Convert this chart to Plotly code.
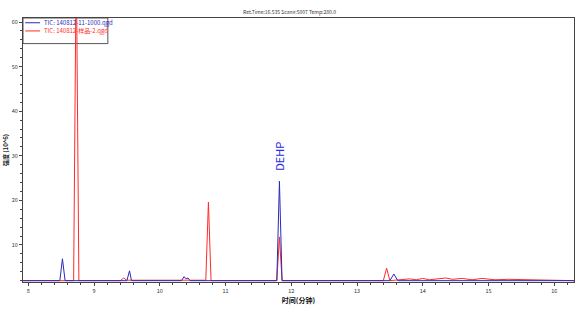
import plotly.graph_objects as go

# Blue trace (TIC 140812-11-1000)
blue_t = [7.92, 8.48, 8.52, 8.56, 9.50, 9.54, 9.57, 10.33, 10.37, 10.40, 10.43, 10.46,
          11.78, 11.82, 11.86, 13.50, 13.56, 13.62, 16.30]
blue_y = [2.0, 2.0, 6.9, 2.0, 2.0, 4.2, 2.0, 2.0, 2.9, 2.4, 2.6, 2.0,
          2.0, 24.3, 2.0, 2.0, 3.5, 2.0, 2.0]

# Red trace (TIC 140812-sample-2)
red_t = [7.92, 8.69, 8.73, 8.77, 9.40, 9.45, 9.50, 10.70, 10.74, 10.78,
         11.78, 11.82, 11.86, 13.40, 13.45, 13.50, 13.80, 13.90, 14.00, 14.10,
         14.35, 14.45, 14.60, 14.75, 14.90, 15.10, 15.30, 16.30]
red_y = [2.0, 2.0, 75.0, 2.0, 2.0, 2.6, 2.1, 2.1, 19.6, 2.0,
         2.0, 11.8, 2.0, 2.0, 4.8, 2.0, 2.4, 2.2, 2.5, 2.2,
         2.6, 2.3, 2.5, 2.2, 2.5, 2.2, 2.3, 2.0]

blue_name = "TIC: 140812-11-1000.qgd"
red_name = "TIC: 140812-样品-2.qgd"

x_ticks = [8, 9, 10, 11, 12, 13, 14, 15, 16]
y_ticks = [10, 20, 30, 40, 50, 60]

BLUE = "#2a2ab8"
RED = "#ff2a2a"
fnt = "Noto Sans CJK SC, Noto Sans, sans-serif"

fig = go.Figure()
fig.add_trace(go.Scatter(x=red_t, y=red_y, mode="lines", name=red_name,
                         line=dict(color=RED, width=1)))
fig.add_trace(go.Scatter(x=blue_t, y=blue_y, mode="lines", name=blue_name,
                         line=dict(color=BLUE, width=1)))

fig.add_annotation(x=11.82, y=25.5, text="DEHP", textangle=-90, showarrow=False,
                   yanchor="bottom", yshift=3, font=dict(color="#2a2ae0", size=11, family=fnt))

# custom legend (paper coordinates)
fig.add_shape(type="rect", xref="paper", yref="paper", x0=0, x1=0.154, y0=0.903, y1=1.0,
              line=dict(color="#555", width=1), layer="below")
for yy, col, name in [(0.982, BLUE, blue_name), (0.951, RED, red_name)]:
    fig.add_shape(type="line", xref="paper", yref="paper", x0=0.004, x1=0.031, y0=yy, y1=yy,
                  line=dict(color=col, width=1), layer="below")
    fig.add_annotation(xref="paper", yref="paper", x=0.034, y=yy, text=name, showarrow=False,
                       xanchor="left", yanchor="middle", font=dict(size=6, color=col, family=fnt))

fig.update_layout(
    width=579, height=311,
    margin=dict(l=23, r=5, t=18, b=29),
    paper_bgcolor="white", plot_bgcolor="white",
    font=dict(family=fnt, size=6, color="#333"),
    title=dict(text="Ret.Time:16.535 Scan#:5007 Temp:280.0", x=0.5, xanchor="center",
               y=0.962, yanchor="middle", font=dict(size=5, color="#333")),
    showlegend=False,
    xaxis=dict(range=[7.92, 16.3], tickvals=x_ticks, ticks="outside", ticklen=3,
               showline=True, linecolor="#444", mirror=True, showgrid=False, zeroline=False,
               tickfont=dict(size=5.5),
               minor=dict(dtick=0.2, ticks="outside", ticklen=2, tickcolor="#444"),
               title=dict(text="<b>时间(分钟)</b>", font=dict(size=7, color="#111"), standoff=2)),
    yaxis=dict(range=[1.7, 60.9], tickvals=y_ticks, ticks="outside", ticklen=3,
               showline=True, linecolor="#444", mirror=True, showgrid=False, zeroline=False,
               tickfont=dict(size=5.5),
               minor=dict(dtick=2, ticks="outside", ticklen=2, tickcolor="#444"),
               title=dict(text="<b>强度 (10^6)</b>", font=dict(size=6, color="#111"), standoff=2)),
)

fig.write_html("out.html")
